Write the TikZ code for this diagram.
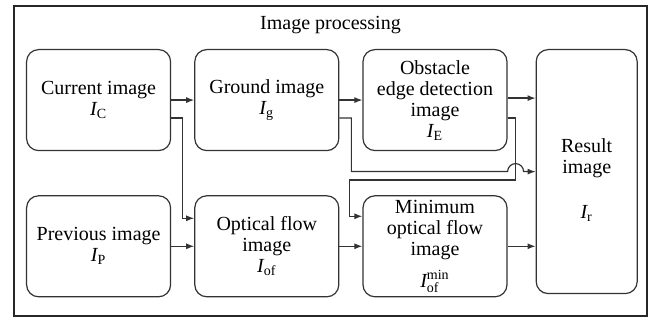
\documentclass[tikz,border=0pt]{standalone}
\usepackage{amsmath}
\usepackage{fontspec}
\setmainfont{Liberation Serif}
\usetikzlibrary{arrows.meta,
                positioning}
\tikzset{block/.style =
   {rectangle,
    rounded corners=6pt,
    draw=black!80,
    line width=0.6pt,
    align=center,
    minimum width=72pt,
    minimum height=50.5pt,
    inner sep=2pt,
    font=\fontsize{10}{10.5}\selectfont}}
\tikzset{arrow/.style = {draw=black!80, line width=0.6pt,
    -{Latex[length=4pt,width=3pt]}}}

\begin{document}
\begin{tikzpicture}

        \useasboundingbox (0,0) rectangle (325pt,160pt);

        % outer frame and its title
        \node [draw=black!85,
               line width=1pt,
               inner sep=0pt,
               minimum width=316.5pt,
               minimum height=155pt,
               anchor=south west] (frame) at (6.5pt,1.5pt) {};

        \node [below=2pt of frame.north,
               font=\fontsize{10}{10.5}\selectfont] (title) {Image processing};

        % top row
        \node [block,
               anchor=north west] (current) at (13pt,135.5pt)
              {Current image\\$\textit{I}_{\text{C}}$};

        \node [block,
               right=11.5pt of current] (ground)
              {Ground image\\$\textit{I}_{\text{g}}$};

        \node [block,
               right=11.5pt of ground] (obstacle)
              {Obstacle\\edge detection\\image\\$\textit{I}_{\text{E}}$};

        \node [block,
               right=14pt of obstacle.north east,
               anchor=north west,
               minimum width=50.5pt,
               minimum height=122pt] (result)
              {\rule{0pt}{15pt}Result\\image\\[12pt]$\textit{I}_{\text{r}}$};

        % bottom row
        \node [block,
               below=22pt of current] (previous)
              {Previous image\\$\textit{I}_{\text{P}}$};

        \node [block,
               below=22pt of ground] (optflow)
              {Optical flow\\image\\$\textit{I}_{\text{of}}$};

        \node [block,
               below=22pt of obstacle] (minflow)
              {Minimum\\optical flow\\image\\[4pt]$\textit{I}_{\text{of}}^{\text{min}}$};

        % straight arrows
        \draw [arrow] (current) -- (ground);
        \draw [arrow] (ground) -- (obstacle);
        \draw [arrow] ([yshift=1pt]obstacle.east) -- ([yshift=1pt]obstacle.east -| result.west);
        \draw [arrow] (previous) -- (optflow);
        \draw [arrow] (optflow) -- (minflow);
        \draw [arrow] (minflow.east) -- (minflow.east -| result.west);

        % routed arrows
        \draw [arrow] ([yshift=-9pt]current.east) -- ++(5.5pt,0)
              |- ([yshift=14pt]optflow.west);

        \draw [arrow] ([yshift=-9pt]obstacle.east) -- ++(4pt,0) -- ++(0,-31pt)
              -| ([xshift=-6.5pt,yshift=15pt]minflow.west)
              -- ([yshift=15pt]minflow.west);

        \draw [arrow] ([yshift=-9pt]ground.east) -- ++(6pt,0)
              |- (obstacle.east |- result.west)
              arc [start angle=180, end angle=0, radius=4pt]
              -- (result.west);

    \end{tikzpicture}
\end{document}
